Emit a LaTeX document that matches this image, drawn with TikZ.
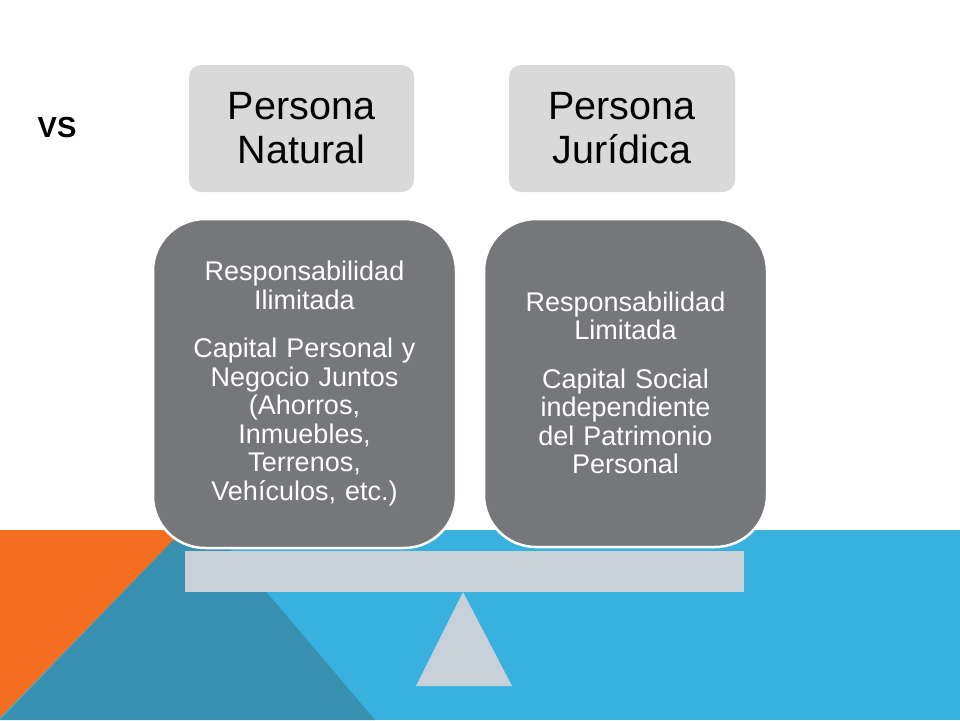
\documentclass[tikz,border=0pt]{standalone}
\usepackage{fontspec}
\setmainfont{Liberation Sans}
\definecolor{bandorange}{RGB}{243,110,30}
\definecolor{bandteal}{RGB}{57,145,178}
\definecolor{bandblue}{RGB}{57,177,222}
\definecolor{cardgray}{RGB}{118,119,123}
\definecolor{headgray}{RGB}{217,217,217}
\definecolor{beamgray}{RGB}{200,209,217}
\tikzset{
  headbox/.style={fill=headgray, rounded corners=12pt, inner sep=0pt,
    minimum width=225pt, minimum height=127pt, align=center,
    font=\fontsize{39.5}{44}\selectfont},
  cardbox/.style={fill=cardgray, draw=white, line width=2.5pt, rounded corners=52pt,
    inner sep=0pt, align=center, text=white,
    font=\fontsize{27}{28.5}\selectfont}
}
\begin{document}
\begin{tikzpicture}[x=1pt,y=-1pt]
\useasboundingbox (0,0) rectangle (960,720);
\fill[white] (0,0) rectangle (960,720);

% coloured band at the bottom
\fill[bandblue] (0,530) rectangle (960,720);
\fill[bandteal] (183,530) -- (214,530) -- (375,720) -- (0,720) -- cycle;
\fill[bandorange] (0,530) -- (183,530) -- (0,718) -- cycle;

\node[font=\bfseries\fontsize{29}{32}\selectfont] (vs) at (57,128) {VS};

\node[headbox] (natural) at (301.5,128.5) {Persona\\Natural};
\node[headbox, minimum width=226pt] (juridica) at (622,128.5) {Persona\\Jurídica};

\node[cardbox, minimum width=303pt, minimum height=329pt, text width=290pt] (ilimitada) at (304.5,383.5)
  {Responsabilidad\\Ilimitada\\[20pt]Capital Personal y\\Negocio Juntos\\(Ahorros,\\Inmuebles,\\Terrenos,\\Vehículos, etc.)};
\node[cardbox, minimum width=283pt, minimum height=328pt, text width=270pt] (limitada) at (625.5,383)
  {Responsabilidad\\Limitada\\[20pt]Capital Social\\independiente\\del Patrimonio\\Personal};

% balance
\fill[beamgray] (185,551) rectangle (744,592);
\fill[beamgray] (463,592) -- (512,686) -- (416,686) -- cycle;
\end{tikzpicture}
\end{document}
